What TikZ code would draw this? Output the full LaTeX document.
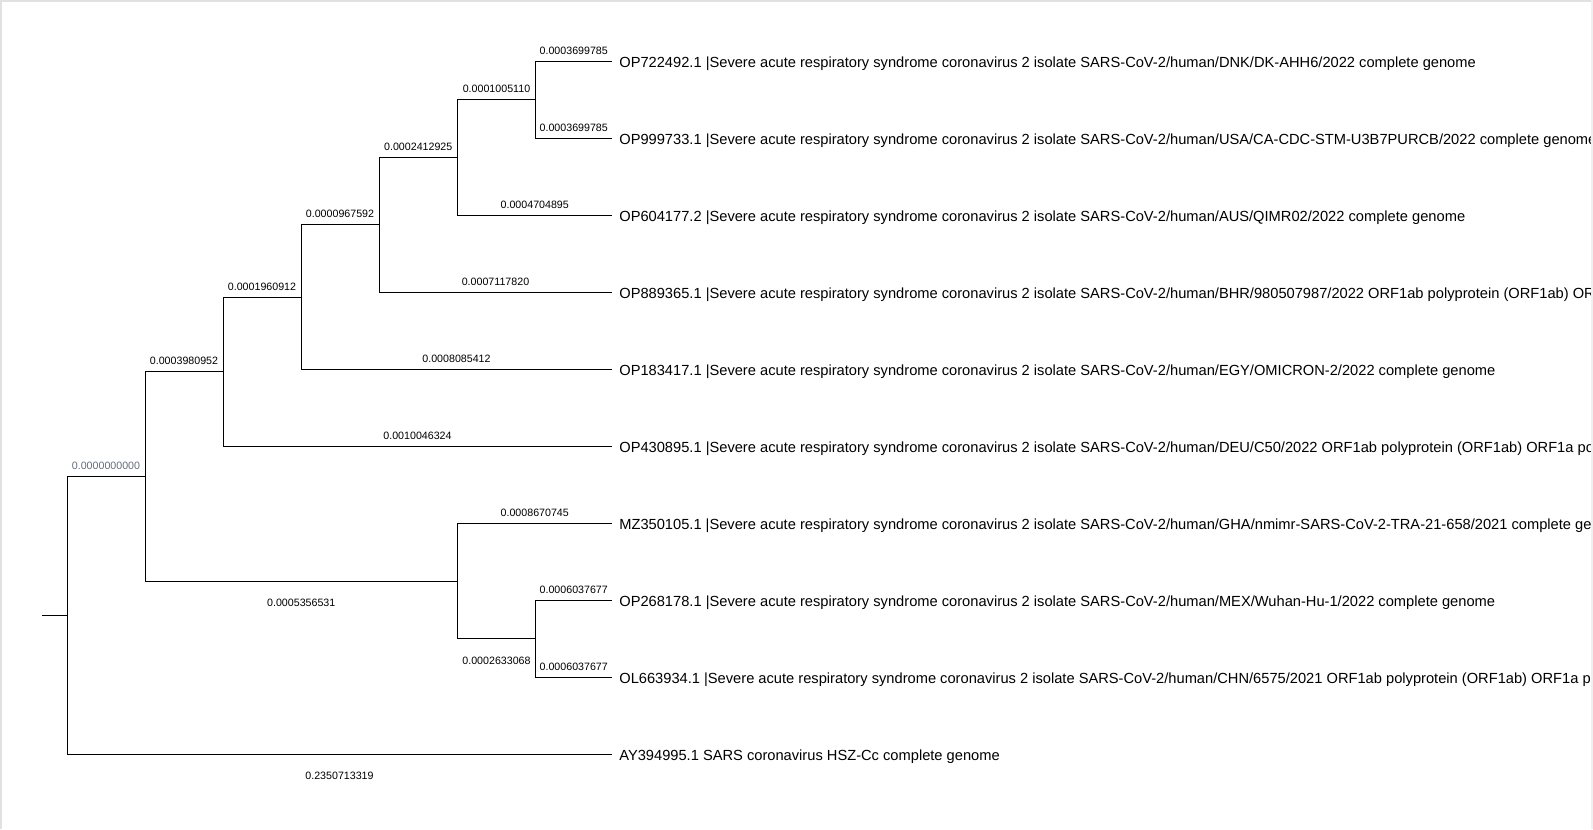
\documentclass[tikz,border=0pt]{standalone}
\usepackage{fontspec}
\setmainfont{Liberation Sans}
\usepackage{tikz}
\usetikzlibrary{positioning}

\definecolor{framegray}{RGB}{225,225,225}
\definecolor{stripgray}{RGB}{240,240,240}
\definecolor{zerogray}{RGB}{100,108,124}

\begin{document}
\begin{tikzpicture}[
    x=0.75pt, y=-0.75pt,
    branch/.style={draw=black, line width=0.75pt},
    taxon/.style={anchor=west, inner sep=0pt, yshift=-1.8pt, font=\fontsize{11}{13}\selectfont},
    blen/.style={inner sep=0pt, anchor=base, font=\fontsize{8}{9}\selectfont},
    blenup/.style={blen, yshift=5.3pt},
    blendown/.style={blen, yshift=-19.2pt}
]
\useasboundingbox (0,0) rectangle (1593,829);

% frame
\fill[stripgray] (1590.5,0) rectangle (1593,829);
\draw[framegray, line width=1.5pt] (0.5,829) -- (0.5,1) -- (1590.5,1);

\begin{scope}
\clip (2,2) rectangle (1590.5,829);

% Internal nodes
\coordinate (stub) at (42,615.3);
\coordinate (root) at (67,615.3);
\coordinate (n6) at (145,476.4);
\coordinate (n5) at (223,371.7);
\coordinate (n4) at (301,297.1);
\coordinate (n3) at (379,224.9);
\coordinate (n2) at (457.5,157.6);
\coordinate (n1) at (535.5,99.8);
\coordinate (n7) at (457.5,581.1);
\coordinate (n8) at (535.5,638.8);

% Tips
\coordinate (tp1) at (612,61.3);
\coordinate (tp2) at (612,138.3);
\coordinate (tp3) at (612,215.3);
\coordinate (tp4) at (612,292.3);
\coordinate (tp5) at (612,369.3);
\coordinate (tp6) at (612,446.3);
\coordinate (tp7) at (612,523.3);
\coordinate (tp8) at (612,600.3);
\coordinate (tp9) at (612,677.3);
\coordinate (tp10) at (612,754.3);

% Taxa
\node (t1) [taxon, right=5.3pt of tp1] {OP722492.1 |Severe acute respiratory syndrome coronavirus 2 isolate SARS-CoV-2/human/DNK/DK-AHH6/2022 complete genome};
\node (t2) [taxon, right=5.3pt of tp2] {OP999733.1 |Severe acute respiratory syndrome coronavirus 2 isolate SARS-CoV-2/human/USA/CA-CDC-STM-U3B7PURCB/2022 complete genome};
\node (t3) [taxon, right=5.3pt of tp3] {OP604177.2 |Severe acute respiratory syndrome coronavirus 2 isolate SARS-CoV-2/human/AUS/QIMR02/2022 complete genome};
\node (t4) [taxon, right=5.3pt of tp4] {OP889365.1 |Severe acute respiratory syndrome coronavirus 2 isolate SARS-CoV-2/human/BHR/980507987/2022 ORF1ab polyprotein (ORF1ab) OR};
\node (t5) [taxon, right=5.3pt of tp5] {OP183417.1 |Severe acute respiratory syndrome coronavirus 2 isolate SARS-CoV-2/human/EGY/OMICRON-2/2022 complete genome};
\node (t6) [taxon, right=5.3pt of tp6] {OP430895.1 |Severe acute respiratory syndrome coronavirus 2 isolate SARS-CoV-2/human/DEU/C50/2022 ORF1ab polyprotein (ORF1ab) ORF1a po};
\node (t7) [taxon, right=5.3pt of tp7] {MZ350105.1 |Severe acute respiratory syndrome coronavirus 2 isolate SARS-CoV-2/human/GHA/nmimr-SARS-CoV-2-TRA-21-658/2021 complete gen};
\node (t8) [taxon, right=5.3pt of tp8] {OP268178.1 |Severe acute respiratory syndrome coronavirus 2 isolate SARS-CoV-2/human/MEX/Wuhan-Hu-1/2022 complete genome};
\node (t9) [taxon, right=5.3pt of tp9] {OL663934.1 |Severe acute respiratory syndrome coronavirus 2 isolate SARS-CoV-2/human/CHN/6575/2021 ORF1ab polyprotein (ORF1ab) ORF1a po};
\node (t10) [taxon, right=5.3pt of tp10] {AY394995.1 SARS coronavirus HSZ-Cc complete genome};

% Branches
\draw [branch] (stub) -- (root);
\draw [branch] (root) |- (n6) node [blenup, pos=0.75, text=zerogray] {0.0000000000};
\draw [branch] (root) |- (tp10) node [blendown, pos=0.75] {0.2350713319};
\draw [branch] (n6) |- (n5) node [blenup, pos=0.75] {0.0003980952};
\draw [branch] (n6) |- (n7) node [blendown, pos=0.75] {0.0005356531};
\draw [branch] (n5) |- (n4) node [blenup, pos=0.75] {0.0001960912};
\draw [branch] (n5) |- (tp6) node [blenup, pos=0.75] {0.0010046324};
\draw [branch] (n4) |- (n3) node [blenup, pos=0.75] {0.0000967592};
\draw [branch] (n4) |- (tp5) node [blenup, pos=0.75] {0.0008085412};
\draw [branch] (n3) |- (n2) node [blenup, pos=0.75] {0.0002412925};
\draw [branch] (n3) |- (tp4) node [blenup, pos=0.75] {0.0007117820};
\draw [branch] (n2) |- (n1) node [blenup, pos=0.75] {0.0001005110};
\draw [branch] (n2) |- (tp3) node [blenup, pos=0.75] {0.0004704895};
\draw [branch] (n1) |- (tp1) node [blenup, pos=0.75] {0.0003699785};
\draw [branch] (n1) |- (tp2) node [blenup, pos=0.75] {0.0003699785};
\draw [branch] (n7) |- (tp7) node [blenup, pos=0.75] {0.0008670745};
\draw [branch] (n7) |- (n8) node [blendown, pos=0.75] {0.0002633068};
\draw [branch] (n8) |- (tp8) node [blenup, pos=0.75] {0.0006037677};
\draw [branch] (n8) |- (tp9) node [blenup, pos=0.75] {0.0006037677};
\end{scope}

\end{tikzpicture}
\end{document}
